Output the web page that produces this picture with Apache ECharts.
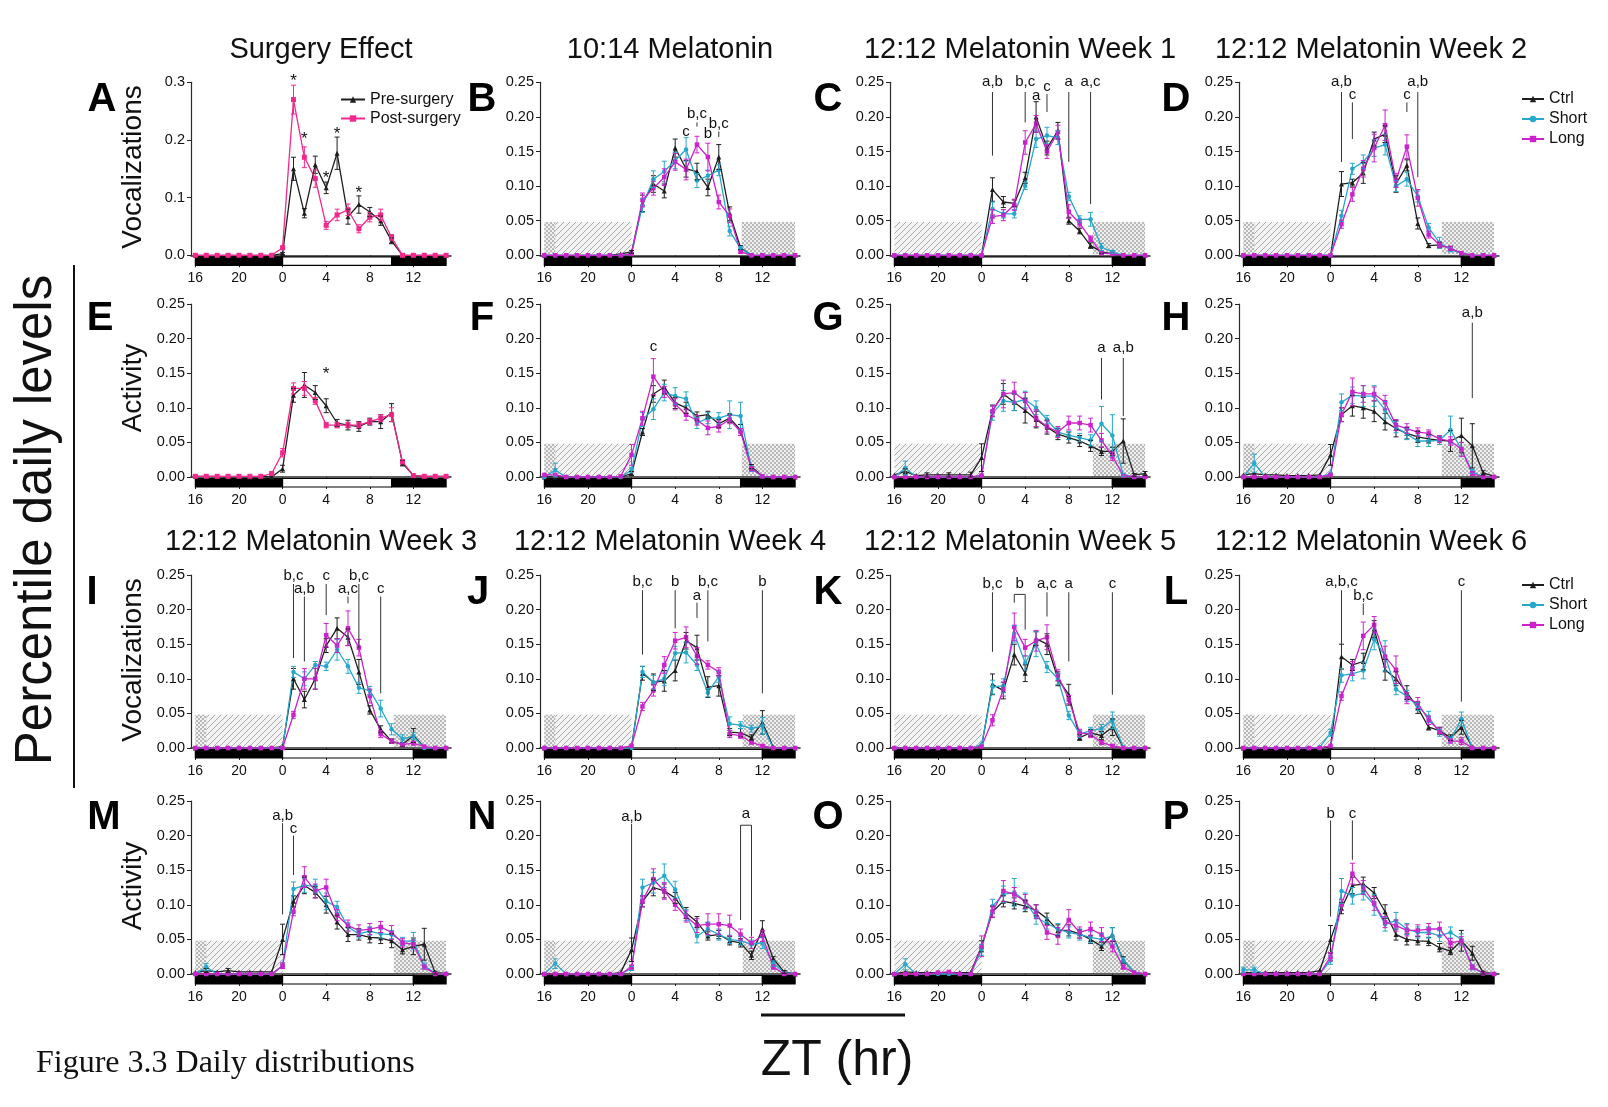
<!DOCTYPE html>
<html>
<head>
<meta charset="utf-8">
<title>Daily distributions</title>
<script src="https://cdn.jsdelivr.net/npm/echarts@6/dist/echarts.min.js"></script>
<style>
  html, body { margin: 0; padding: 0; background: #ffffff; }
  #chart { width: 1608px; height: 1107px; }
</style>
</head>
<body>
<div id="chart"></div>
<script>
// ZT hours, from ZT16 of the previous day (-8) to ZT15
const hours = [-8,-7,-6,-5,-4,-3,-2,-1,0,1,2,3,4,5,6,7,8,9,10,11,12,13,14,15];
const xTickHours = [-8,-4,0,4,8,12];

// ---- Surgery effect (A: vocalizations, E: activity) ----
const surgVocPre      = [0,0,0,0,0,0,0,0, 0.003,0.150,0.073,0.157,0.117,0.177,0.067,0.088,0.075,0.060,0.025,0,0,0,0,0];
const surgVocPreErr   = [0,0,0,0,0,0,0,0, 0.002,0.020,0.008,0.015,0.010,0.028,0.013,0.015,0.008,0.008,0.005,0,0,0,0,0];
const surgVocPost     = [0,0,0,0,0,0,0,0, 0.013,0.270,0.170,0.133,0.052,0.070,0.079,0.046,0.066,0.070,0.031,0,0,0,0,0];
const surgVocPostErr  = [0,0,0,0,0,0,0,0, 0.003,0.025,0.018,0.015,0.007,0.010,0.010,0.007,0.008,0.010,0.005,0,0,0,0,0];
const surgActPre      = [0.001,0.001,0.001,0,0.001,0,0.001,0, 0.012,0.118,0.133,0.122,0.103,0.078,0.075,0.073,0.080,0.080,0.093,0.020,0.002,0.001,0.001,0.001];
const surgActPreErr   = [0,0,0,0,0,0,0,0, 0.005,0.010,0.018,0.010,0.010,0.005,0.007,0.007,0.005,0.010,0.013,0.004,0,0,0,0];
const surgActPost     = [0.001,0.001,0.001,0.001,0.001,0.001,0.001,0.005, 0.035,0.128,0.128,0.110,0.075,0.075,0.075,0.075,0.080,0.085,0.090,0.022,0.002,0.001,0.001,0.001];
const surgActPostErr  = [0,0,0,0,0,0,0,0.002, 0.006,0.008,0.010,0.005,0.004,0.004,0.004,0.004,0.004,0.005,0.010,0.003,0,0,0,0];

// ---- B: 10:14 melatonin, vocalizations ----
const bCtrl     = [0,0,0,0,0,0,0,0.002, 0.005,0.075,0.103,0.093,0.155,0.125,0.121,0.098,0.142,0.060,0.011,0,0,0,0,0];
const bCtrlErr  = [0,0,0,0,0,0,0,0, 0.002,0.012,0.012,0.010,0.013,0.012,0.012,0.012,0.018,0.010,0.003,0,0,0,0,0];
const bShort    = [0,0,0,0,0,0,0,0, 0.002,0.072,0.110,0.121,0.137,0.153,0.108,0.115,0.123,0.035,0.010,0,0,0,0,0];
const bShortErr = [0,0,0,0,0,0,0,0, 0,0.010,0.012,0.015,0.012,0.017,0.010,0.008,0.008,0.007,0.003,0,0,0,0,0];
const bLong     = [0,0,0,0,0,0,0,0, 0.002,0.080,0.097,0.113,0.135,0.124,0.160,0.142,0.077,0.057,0.005,0,0,0,0,0];
const bLongErr  = [0,0,0,0,0,0,0,0, 0,0.010,0.010,0.012,0.012,0.015,0.012,0.020,0.010,0.010,0.002,0,0,0,0,0];

// ---- C: 12:12 week 1, vocalizations ----
const cCtrl     = [0,0,0,0,0,0,0,0, 0,0.095,0.077,0.075,0.112,0.200,0.155,0.180,0.050,0.035,0.014,0.005,0.002,0,0,0];
const cCtrlErr  = [0,0,0,0,0,0,0,0, 0,0.017,0.008,0.005,0.008,0.022,0.010,0.012,0.005,0.004,0.004,0.002,0,0,0,0];
const cShort    = [0,0,0,0,0,0,0,0, 0,0.067,0.060,0.060,0.100,0.168,0.173,0.170,0.085,0.052,0.052,0.012,0.005,0,0,0];
const cShortErr = [0,0,0,0,0,0,0,0, 0,0.010,0.006,0.006,0.005,0.012,0.012,0.010,0.006,0.005,0.010,0.005,0.002,0,0,0];
const cLong     = [0,0,0,0,0,0,0,0, 0,0.056,0.058,0.073,0.163,0.190,0.150,0.178,0.063,0.046,0.024,0.003,0.002,0,0,0];
const cLongErr  = [0,0,0,0,0,0,0,0, 0,0.010,0.008,0.008,0.017,0.012,0.010,0.010,0.010,0.005,0.004,0.002,0,0,0,0];

// ---- D: 12:12 week 2, vocalizations ----
const dCtrl     = [0,0,0,0,0,0,0,0, 0,0.103,0.105,0.119,0.168,0.175,0.103,0.130,0.046,0.014,0.015,0.010,0.003,0,0,0];
const dCtrlErr  = [0,0,0,0,0,0,0,0, 0,0.018,0.005,0.015,0.010,0.012,0.012,0.008,0.008,0.003,0.004,0.003,0,0,0,0];
const dShort    = [0,0,0,0,0,0,0,0, 0,0.057,0.125,0.135,0.155,0.160,0.100,0.110,0.085,0.040,0.018,0.008,0.003,0,0,0];
const dShortErr = [0,0,0,0,0,0,0,0, 0,0.008,0.008,0.010,0.012,0.015,0.008,0.010,0.008,0.006,0.008,0.003,0,0,0,0];
const dLong     = [0,0,0,0,0,0,0,0, 0,0.045,0.088,0.125,0.155,0.188,0.108,0.157,0.083,0.030,0.015,0.010,0.003,0,0,0];
const dLongErr  = [0,0,0,0,0,0,0,0, 0,0.006,0.010,0.012,0.020,0.022,0.010,0.017,0.012,0.005,0.004,0.003,0,0,0,0];

// ---- F: 10:14 melatonin, activity ----
const fCtrl     = [0,0,0,0,0,0,0,0, 0.005,0.065,0.120,0.130,0.107,0.100,0.088,0.090,0.077,0.085,0.068,0.015,0.001,0,0,0];
const fCtrlErr  = [0,0,0,0,0,0,0,0, 0.003,0.005,0.012,0.010,0.008,0.008,0.006,0.005,0.006,0.006,0.008,0.003,0,0,0,0];
const fShort    = [0,0.010,0,0,0,0,0,0, 0.010,0.083,0.098,0.122,0.117,0.113,0.078,0.085,0.085,0.090,0.088,0.012,0.001,0,0,0];
const fShortErr = [0,0.010,0,0,0,0,0,0, 0.004,0.010,0.015,0.012,0.012,0.010,0.008,0.008,0.008,0.020,0.020,0.004,0,0,0,0];
const fLong     = [0.003,0.003,0,0,0,0,0,0.001, 0.032,0.085,0.145,0.123,0.105,0.090,0.082,0.071,0.073,0.083,0.065,0.012,0.001,0,0,0];
const fLongErr  = [0,0,0,0,0,0,0,0, 0.015,0.010,0.026,0.008,0.008,0.008,0.007,0.010,0.008,0.006,0.005,0.003,0,0,0,0];

// ---- G: 12:12 week 1, activity ----
const gCtrl     = [0.003,0.008,0.002,0.003,0.003,0.003,0.003,0.003, 0.028,0.096,0.120,0.108,0.096,0.083,0.072,0.062,0.057,0.052,0.045,0.037,0.037,0.052,0.003,0.005];
const gCtrlErr  = [0,0.004,0,0.003,0,0.003,0,0.004, 0.020,0.008,0.015,0.012,0.018,0.012,0.010,0.008,0.008,0.008,0.008,0.006,0.006,0.032,0.002,0.003];
const gShort    = [0,0.013,0,0,0,0,0,0, 0.002,0.092,0.110,0.108,0.112,0.100,0.083,0.065,0.060,0.057,0.053,0.077,0.060,0.003,0,0];
const gShortErr = [0,0.010,0,0,0,0,0,0, 0,0.010,0.015,0.012,0.012,0.010,0.006,0.006,0.006,0.006,0.008,0.025,0.030,0.002,0,0];
const gLong     = [0,0,0,0,0,0,0,0, 0.002,0.095,0.120,0.122,0.110,0.085,0.073,0.065,0.078,0.078,0.075,0.053,0.030,0.002,0,0];
const gLongErr  = [0,0,0,0,0,0,0,0, 0,0.008,0.020,0.015,0.012,0.012,0.008,0.008,0.010,0.010,0.010,0.010,0.006,0,0,0];

// ---- H: 12:12 week 2, activity ----
const hCtrl     = [0.003,0.005,0.003,0.003,0.002,0.002,0.002,0.003, 0.032,0.090,0.103,0.100,0.095,0.080,0.070,0.063,0.058,0.055,0.053,0.052,0.060,0.045,0.006,0.001];
const hCtrlErr  = [0,0,0,0,0,0,0,0, 0.015,0.010,0.015,0.015,0.015,0.012,0.012,0.008,0.008,0.006,0.006,0.015,0.025,0.032,0.003,0];
const hShort    = [0,0.020,0,0,0,0,0,0, 0.005,0.108,0.118,0.117,0.117,0.097,0.072,0.062,0.052,0.052,0.053,0.068,0.040,0.008,0,0];
const hShortErr = [0,0.013,0,0,0,0,0,0, 0,0.012,0.012,0.015,0.015,0.012,0.008,0.008,0.008,0.008,0.006,0.020,0.010,0.003,0,0];
const hLong     = [0,0,0,0,0,0,0,0, 0.003,0.090,0.123,0.120,0.120,0.108,0.075,0.070,0.065,0.063,0.055,0.052,0.040,0.005,0,0];
const hLongErr  = [0,0,0,0,0,0,0,0, 0,0.010,0.020,0.012,0.010,0.010,0.008,0.007,0.006,0.005,0.005,0.006,0.010,0.003,0,0];

// ---- I: 12:12 week 3, vocalizations ----
const iCtrl     = [0,0,0,0,0,0,0,0, 0.002,0.100,0.070,0.100,0.148,0.173,0.160,0.110,0.055,0.027,0.010,0.005,0.018,0.001,0,0];
const iCtrlErr  = [0,0,0,0,0,0,0,0, 0,0.015,0.012,0.015,0.010,0.015,0.012,0.018,0.006,0.005,0.003,0.003,0.010,0,0,0];
const iShort    = [0,0,0,0,0,0,0,0, 0,0.110,0.100,0.120,0.118,0.142,0.118,0.087,0.083,0.057,0.027,0.013,0.017,0,0,0];
const iShortErr = [0,0,0,0,0,0,0,0, 0,0.008,0.010,0.005,0.006,0.015,0.010,0.008,0.006,0.012,0.008,0.006,0.005,0,0,0];
const iLong     = [0,0,0,0,0,0,0,0, 0,0.048,0.100,0.100,0.163,0.148,0.173,0.145,0.075,0.020,0.010,0.005,0.007,0.002,0,0];
const iLongErr  = [0,0,0,0,0,0,0,0, 0,0.005,0.015,0.015,0.017,0.010,0.025,0.012,0.010,0.005,0.003,0.002,0.003,0,0,0];

// ---- J: 12:12 week 4, vocalizations ----
const jCtrl     = [0,0,0,0,0,0,0,0, 0.002,0.108,0.095,0.097,0.112,0.155,0.145,0.088,0.090,0.023,0.022,0.015,0.037,0.001,0,0];
const jCtrlErr  = [0,0,0,0,0,0,0,0, 0,0.010,0.012,0.015,0.015,0.012,0.018,0.015,0.015,0.005,0.006,0.004,0.017,0,0,0];
const jShort    = [0,0,0,0,0,0,0,0, 0,0.110,0.095,0.100,0.137,0.138,0.120,0.080,0.103,0.035,0.033,0.028,0.032,0,0,0];
const jShortErr = [0,0,0,0,0,0,0,0, 0,0.008,0.010,0.010,0.010,0.015,0.008,0.006,0.008,0.010,0.005,0.005,0.012,0,0,0];
const jLong     = [0,0,0,0,0,0,0,0, 0.003,0.060,0.083,0.120,0.155,0.160,0.133,0.120,0.110,0.020,0.018,0.008,0.003,0,0,0];
const jLongErr  = [0,0,0,0,0,0,0,0, 0,0.006,0.008,0.012,0.012,0.015,0.012,0.006,0.006,0.005,0.004,0.002,0.002,0,0,0];

// ---- K: 12:12 week 5, vocalizations ----
const kCtrl     = [0,0,0,0,0,0,0,0, 0.002,0.092,0.083,0.135,0.108,0.158,0.150,0.100,0.077,0.015,0.022,0.018,0.030,0.001,0,0];
const kCtrlErr  = [0,0,0,0,0,0,0,0, 0,0.015,0.012,0.015,0.012,0.010,0.015,0.010,0.015,0.004,0.005,0.006,0.012,0,0,0];
const kShort    = [0,0,0,0,0,0,0,0, 0.005,0.088,0.090,0.165,0.123,0.150,0.117,0.100,0.047,0.020,0.025,0.028,0.040,0.001,0,0];
const kShortErr = [0,0,0,0,0,0,0,0, 0,0.010,0.010,0.012,0.010,0.018,0.008,0.008,0.006,0.005,0.005,0.006,0.012,0,0,0];
const kLong     = [0,0,0,0,0,0,0,0, 0.002,0.040,0.085,0.175,0.145,0.155,0.160,0.105,0.070,0.022,0.020,0.008,0.003,0,0,0];
const kLongErr  = [0,0,0,0,0,0,0,0, 0,0.008,0.010,0.020,0.012,0.015,0.018,0.008,0.006,0.005,0.005,0.003,0.002,0,0,0];

// ---- L: 12:12 week 6, vocalizations ----
const lCtrl     = [0,0,0,0,0,0,0,0, 0.002,0.132,0.120,0.125,0.172,0.113,0.100,0.080,0.058,0.030,0.025,0.015,0.030,0.001,0,0];
const lCtrlErr  = [0,0,0,0,0,0,0,0, 0,0.018,0.008,0.012,0.012,0.015,0.010,0.010,0.008,0.004,0.005,0.004,0.010,0,0,0];
const lShort    = [0,0,0,0,0,0,0,0.001, 0.022,0.105,0.107,0.112,0.157,0.133,0.085,0.075,0.060,0.045,0.022,0.012,0.042,0,0,0];
const lShortErr = [0,0,0,0,0,0,0,0, 0.005,0.010,0.010,0.012,0.015,0.022,0.008,0.008,0.006,0.008,0.005,0.004,0.010,0,0,0];
const lLong     = [0,0,0,0,0,0,0,0, 0.003,0.075,0.115,0.162,0.178,0.132,0.113,0.072,0.065,0.040,0.025,0.010,0.010,0,0,0];
const lLongErr  = [0,0,0,0,0,0,0,0, 0,0.006,0.010,0.020,0.012,0.015,0.020,0.008,0.008,0.006,0.004,0.003,0.005,0,0,0];

// ---- M: 12:12 week 3, activity ----
const mCtrl     = [0.002,0.005,0.003,0.005,0.003,0.003,0.003,0.003, 0.050,0.105,0.128,0.118,0.100,0.075,0.057,0.057,0.053,0.052,0.048,0.035,0.040,0.043,0.002,0.001];
const mCtrlErr  = [0,0.003,0,0.003,0,0,0,0, 0.022,0.008,0.012,0.008,0.012,0.010,0.010,0.008,0.008,0.008,0.010,0.006,0.012,0.023,0.002,0];
const mShort    = [0,0.010,0,0,0,0,0,0, 0.012,0.123,0.128,0.127,0.105,0.097,0.068,0.058,0.062,0.058,0.057,0.047,0.048,0.012,0.001,0];
const mShortErr = [0,0.005,0,0,0,0,0,0, 0.004,0.010,0.010,0.010,0.012,0.008,0.006,0.006,0.006,0.006,0.006,0.006,0.012,0.004,0,0];
const mLong     = [0,0,0,0,0,0,0,0, 0.012,0.090,0.140,0.120,0.125,0.085,0.070,0.063,0.065,0.068,0.060,0.045,0.043,0.010,0,0];
const mLongErr  = [0,0,0,0,0,0,0,0, 0.004,0.006,0.015,0.010,0.012,0.008,0.008,0.008,0.008,0.008,0.010,0.006,0.006,0.003,0,0];

// ---- N: 12:12 week 4, activity ----
const nCtrl     = [0,0,0,0,0,0,0,0.002, 0.035,0.105,0.125,0.120,0.110,0.088,0.075,0.055,0.057,0.048,0.045,0.027,0.065,0.022,0.003,0];
const nCtrlErr  = [0,0,0,0,0,0,0,0, 0.017,0.008,0.012,0.010,0.008,0.008,0.008,0.006,0.006,0.006,0.006,0.006,0.012,0.003,0.002,0];
const nShort    = [0,0.015,0,0,0,0,0,0, 0.008,0.125,0.132,0.142,0.122,0.085,0.055,0.065,0.057,0.050,0.048,0.043,0.045,0.015,0.002,0];
const nShortErr = [0,0.007,0,0,0,0,0,0, 0.003,0.012,0.015,0.017,0.012,0.008,0.010,0.010,0.008,0.006,0.006,0.006,0.008,0.004,0,0];
const nLong     = [0,0,0,0,0,0,0,0, 0.010,0.105,0.137,0.120,0.100,0.083,0.070,0.072,0.072,0.070,0.057,0.045,0.055,0.010,0,0];
const nLongErr  = [0,0,0,0,0,0,0,0, 0.003,0.008,0.015,0.012,0.008,0.008,0.010,0.015,0.015,0.015,0.008,0.008,0.008,0.003,0,0];

// ---- O: 12:12 week 5, activity ----
const oCtrl     = [0,0.003,0.002,0.002,0.002,0.002,0.002,0.002, 0.040,0.090,0.105,0.102,0.098,0.092,0.080,0.063,0.063,0.058,0.050,0.040,0.057,0.020,0.002,0];
const oCtrlErr  = [0,0,0,0,0,0,0,0, 0.008,0.008,0.008,0.008,0.008,0.008,0.008,0.008,0.008,0.006,0.006,0.006,0.010,0.005,0,0];
const oShort    = [0,0.014,0,0,0,0,0,0, 0.035,0.098,0.115,0.118,0.105,0.082,0.073,0.065,0.060,0.057,0.053,0.050,0.055,0.020,0.002,0];
const oShortErr = [0,0.008,0,0,0,0,0,0, 0.008,0.010,0.012,0.020,0.012,0.010,0.008,0.008,0.008,0.008,0.008,0.008,0.012,0.004,0,0];
const oLong     = [0,0,0,0,0.002,0.003,0,0, 0.040,0.090,0.120,0.115,0.105,0.090,0.060,0.055,0.078,0.060,0.065,0.057,0.040,0.010,0.002,0];
const oLongErr  = [0,0,0,0,0,0,0,0, 0.015,0.008,0.015,0.010,0.010,0.010,0.010,0.012,0.015,0.008,0.010,0.010,0.008,0.003,0,0];

// ---- P: 12:12 week 6, activity ----
const pCtrl     = [0.002,0.002,0.002,0.002,0.002,0.002,0.002,0.005, 0.050,0.095,0.128,0.130,0.117,0.090,0.057,0.050,0.048,0.047,0.038,0.033,0.048,0.030,0.002,0.001];
const pCtrlErr  = [0,0,0,0,0,0,0,0, 0.020,0.008,0.012,0.010,0.008,0.010,0.008,0.008,0.006,0.006,0.006,0.005,0.015,0.010,0.002,0];
const pShort    = [0.006,0.006,0,0,0,0,0,0, 0.020,0.120,0.113,0.117,0.100,0.072,0.077,0.065,0.060,0.060,0.055,0.060,0.050,0.010,0.001,0];
const pShortErr = [0.004,0.004,0,0,0,0,0,0, 0.006,0.018,0.012,0.010,0.015,0.010,0.012,0.008,0.008,0.008,0.008,0.008,0.008,0.004,0,0];
const pLong     = [0,0,0,0,0,0,0,0, 0.025,0.100,0.145,0.125,0.102,0.075,0.070,0.063,0.063,0.065,0.065,0.045,0.048,0.010,0.001,0];
const pLongErr  = [0,0,0,0,0,0,0,0, 0.006,0.008,0.015,0.010,0.010,0.008,0.008,0.008,0.008,0.008,0.010,0.006,0.006,0.003,0,0];

// Significance notes: [hour, label level, text, line top, line bottom] or
// brackets: [hour1, label level, text, bracket top, bottom at hour1, hour2, bottom at hour2]
const notesA = [[1,0.31,'*'],[2,0.209,'*'],[4,0.143,'*'],[5,0.219,'*'],[7,0.116,'*']];
const notesB = [[5,0.178,'c'],[6,0.204,'b,c',0.192,0.186],[7,0.175,'b'],[8,0.19,'b,c',0.179,0.171]];
const notesC = [[1,0.25,'a,b',0.236,0.144],[4,0.25,'b,c',0.236,0.192],[5,0.231,'a'],[6,0.244,'c',0.233,0.207],[8,0.25,'a',0.236,0.135],[10,0.25,'a,c',0.236,0.074]];
const notesD = [[1,0.25,'a,b',0.236,0.135],[2,0.232,'c',0.221,0.168],[7,0.232,'c',0.221,0.207],[8,0.25,'a,b',0.236,0.113]];
const notesE = [[4,0.155,'*']];
const notesF = [[2,0.188,'c']];
const notesG = [[11,0.187,'a',0.172,0.112],[13,0.187,'a,b',0.172,0.088]];
const notesH = [[13,0.237,'a,b',0.223,0.114]];
const notesI = [[1,0.249,'b,c',0.237,0.13],[2,0.23,'a,b',0.219,0.125],[4,0.249,'c',0.237,0.192],[6,0.23,'a,c',0.219,0.209],[7,0.249,'b,c',0.237,0.144],[9,0.23,'c',0.219,0.079]];
const notesJ = [[1,0.24,'b,c',0.228,0.135],[4,0.24,'b',0.228,0.173],[6,0.22,'a',0.21,0.188],[7,0.24,'b,c',0.228,0.154],[12,0.24,'b',0.228,0.079]];
const notesK = [[1,0.2365,'b,c',0.225,0.139],[3,0.2365,'b',0.222,0.21,4,0.171],[6,0.2365,'a,c',0.225,0.19],[8,0.2365,'a',0.225,0.125],[12,0.2365,'c',0.225,0.077]];
const notesL = [[1,0.24,'a,b,c',0.228,0.135],[3,0.22,'b,c',0.209,0.192],[12,0.24,'c',0.228,0.067]];
const notesM = [[0,0.229,'a,b',0.218,0.086],[1,0.21,'c',0.2,0.143]];
const notesN = [[0,0.227,'a,b',0.217,0.052],[10,0.231,'a',0.215,0.078,11,0.054]];
const notesO = [];
const notesP = [[0,0.232,'b',0.222,0.083],[2,0.232,'c',0.222,0.165]];

// Light schedule bars under the axis: [start, end, lit]
const lightBar1014 = [[-8,0,0],[0,10,1],[10,15,0]];
const lightBar1212 = [[-8,0,0],[0,12,1],[12,15,0]];
// Shaded reference windows (hours) and their height
const hatchNight = [-8, 0];
const crossFirstHour = [-8, -7];
const crossTail1014 = [10.1, 15];
const crossTail1212 = [10.2, 15];
const SHADE_LEVEL = 0.048;

const panelLetters = ['A','B','C','D','E','F','G','H','I','J','K','L','M','N','O','P'];
const panelTitles = ['Surgery Effect','10:14 Melatonin','12:12 Melatonin Week 1','12:12 Melatonin Week 2',
                     '12:12 Melatonin Week 3','12:12 Melatonin Week 4','12:12 Melatonin Week 5','12:12 Melatonin Week 6'];

// ---- styling ----
const SANS = "'Liberation Sans', Arial, Helvetica, sans-serif";
const SERIF = "'Liberation Serif', 'Times New Roman', serif";
const COLORS = { pre: '#1e1e1e', post: '#f2288c', ctrl: '#1e1e1e', short: '#26a8cc', long: '#cc22cc' };
const SYMBOLS = { pre: 'triangle', post: 'rect', ctrl: 'triangle', short: 'circle', long: 'rect' };
const SYMBOL_SIZE = { pre: 5, post: 5, ctrl: 5, short: 4.5, long: 4.5 };

// ---- layout ----
const COL_LEFT = [191, 540, 890, 1239];
const ROW_TOP = [82.3, 304, 575, 801];
const PLOT_W = 260, PLOT_H = 173;
const X_MIN = -8.4, X_MAX = 15.45;

function trio(c, ce, s, se, l, le) {
  return [['Ctrl','ctrl',c,ce],['Short','short',s,se],['Long','long',l,le]];
}
const leadTail1014 = { lead: true, tail: crossTail1014 };
const leadTail1212 = { lead: true, tail: crossTail1212 };
const tail1212 = { lead: false, tail: crossTail1212 };

const panels = [
  { row:0, col:0, yMax:0.3, yStep:0.1, digits:1, lights:lightBar1014, shade:null,
    groups:[['Pre-surgery','pre',surgVocPre,surgVocPreErr],['Post-surgery','post',surgVocPost,surgVocPostErr]], notes:notesA },
  { row:0, col:1, lights:lightBar1014, shade:leadTail1014, groups:trio(bCtrl,bCtrlErr,bShort,bShortErr,bLong,bLongErr), notes:notesB },
  { row:0, col:2, lights:lightBar1212, shade:tail1212, groups:trio(cCtrl,cCtrlErr,cShort,cShortErr,cLong,cLongErr), notes:notesC },
  { row:0, col:3, lights:lightBar1212, shade:leadTail1212, groups:trio(dCtrl,dCtrlErr,dShort,dShortErr,dLong,dLongErr), notes:notesD },
  { row:1, col:0, lights:lightBar1014, shade:null,
    groups:[['Pre-surgery','pre',surgActPre,surgActPreErr],['Post-surgery','post',surgActPost,surgActPostErr]], notes:notesE },
  { row:1, col:1, lights:lightBar1014, shade:leadTail1014, groups:trio(fCtrl,fCtrlErr,fShort,fShortErr,fLong,fLongErr), notes:notesF },
  { row:1, col:2, lights:lightBar1212, shade:tail1212, groups:trio(gCtrl,gCtrlErr,gShort,gShortErr,gLong,gLongErr), notes:notesG },
  { row:1, col:3, lights:lightBar1212, shade:leadTail1212, groups:trio(hCtrl,hCtrlErr,hShort,hShortErr,hLong,hLongErr), notes:notesH },
  { row:2, col:0, lights:lightBar1212, shade:leadTail1212, groups:trio(iCtrl,iCtrlErr,iShort,iShortErr,iLong,iLongErr), notes:notesI },
  { row:2, col:1, lights:lightBar1212, shade:leadTail1212, groups:trio(jCtrl,jCtrlErr,jShort,jShortErr,jLong,jLongErr), notes:notesJ },
  { row:2, col:2, lights:lightBar1212, shade:tail1212, groups:trio(kCtrl,kCtrlErr,kShort,kShortErr,kLong,kLongErr), notes:notesK },
  { row:2, col:3, lights:lightBar1212, shade:leadTail1212, groups:trio(lCtrl,lCtrlErr,lShort,lShortErr,lLong,lLongErr), notes:notesL },
  { row:3, col:0, lights:lightBar1212, shade:leadTail1212, groups:trio(mCtrl,mCtrlErr,mShort,mShortErr,mLong,mLongErr), notes:notesM },
  { row:3, col:1, lights:lightBar1212, shade:leadTail1212, groups:trio(nCtrl,nCtrlErr,nShort,nShortErr,nLong,nLongErr), notes:notesN },
  { row:3, col:2, lights:lightBar1212, shade:tail1212, groups:trio(oCtrl,oCtrlErr,oShort,oShortErr,oLong,oLongErr), notes:notesO },
  { row:3, col:3, lights:lightBar1212, shade:leadTail1212, groups:trio(pCtrl,pCtrlErr,pShort,pShortErr,pLong,pLongErr), notes:notesP }
];

// ---- fill patterns for the shaded windows ----
function makeHatch() {
  const c = document.createElement('canvas');
  c.width = 6; c.height = 6;
  const g = c.getContext('2d');
  g.fillStyle = '#f4f4f4'; g.fillRect(0, 0, 6, 6);
  g.strokeStyle = '#aaaaaa'; g.lineWidth = 1;
  g.beginPath();
  g.moveTo(-1, 7); g.lineTo(7, -1);
  g.moveTo(-1, 1); g.lineTo(1, -1);
  g.moveTo(5, 7); g.lineTo(7, 5);
  g.stroke();
  return c;
}
function makeCross() {
  const c = document.createElement('canvas');
  c.width = 4; c.height = 4;
  const g = c.getContext('2d');
  g.fillStyle = '#f0f0f0'; g.fillRect(0, 0, 4, 4);
  g.fillStyle = '#b8b8b8'; g.fillRect(0, 0, 2, 2); g.fillRect(2, 2, 2, 2);
  return c;
}
const hatchFill = { type: 'pattern', image: makeHatch(), repeat: 'repeat' };
const crossFill = { type: 'pattern', image: makeCross(), repeat: 'repeat' };

// ---- series builders ----
function backdropSeries(p, k) {
  const items = [];
  if (p.shade) {
    items.push({ span: hatchNight, kind: 'hatch' });
    if (p.shade.lead) items.push({ span: crossFirstHour, kind: 'cross' });
    items.push({ span: p.shade.tail, kind: 'cross' });
  }
  p.lights.forEach(l => items.push({ span: [l[0], l[1]], kind: l[2] ? 'light' : 'dark' }));
  return {
    type: 'custom', xAxisIndex: k, yAxisIndex: k, z: 1, silent: true, clip: false,
    data: items.map(it => [it.span[0], it.span[1]]),
    renderItem: (params, api) => {
      const it = items[params.dataIndex];
      const x1 = api.value(0), x2 = api.value(1);
      if (it.kind === 'hatch' || it.kind === 'cross') {
        const a = api.coord([x1, SHADE_LEVEL]), b = api.coord([x2, 0]);
        return { type: 'rect', shape: { x: a[0], y: a[1], width: b[0] - a[0], height: b[1] - a[1] - 1 },
                 style: { fill: it.kind === 'hatch' ? hatchFill : crossFill } };
      }
      const a = api.coord([x1, 0]), b = api.coord([x2, 0]);
      return { type: 'rect', shape: { x: a[0], y: a[1] + 1.5, width: b[0] - a[0], height: 8.5 },
               style: { fill: it.kind === 'dark' ? '#000' : '#fff', stroke: '#000', lineWidth: 1.2 } };
    }
  };
}

function errorSeries(k, vals, errs, color) {
  return {
    type: 'custom', xAxisIndex: k, yAxisIndex: k, z: 4, silent: true, clip: false,
    data: hours.map((h, i) => [h, vals[i], errs[i]]),
    renderItem: (params, api) => {
      const x = api.value(0), v = api.value(1), e = api.value(2);
      if (!(e > 0)) return null;
      const top = api.coord([x, v + e]), bot = api.coord([x, Math.max(0, v - e)]);
      const cap = 2.5, st = { stroke: color, lineWidth: 1 };
      return { type: 'group', children: [
        { type: 'line', shape: { x1: top[0], y1: top[1], x2: bot[0], y2: bot[1] }, style: st },
        { type: 'line', shape: { x1: top[0] - cap, y1: top[1], x2: top[0] + cap, y2: top[1] }, style: st },
        { type: 'line', shape: { x1: bot[0] - cap, y1: bot[1], x2: bot[0] + cap, y2: bot[1] }, style: st }
      ] };
    }
  };
}

function noteSeries(notes, k) {
  return {
    type: 'custom', xAxisIndex: k, yAxisIndex: k, z: 6, silent: true, clip: false,
    data: notes.map(n => [n[0], n[1]]),
    renderItem: (params, api) => {
      const n = notes[params.dataIndex];
      const bracket = n.length > 5;
      const xc = bracket ? (n[0] + n[5]) / 2 : n[0];
      const tp = api.coord([xc, n[1]]);
      const star = n[2] === '*';
      const children = [{
        type: 'text', x: tp[0], y: tp[1] + (star ? 5 : 0),
        style: { text: n[2], fill: '#111', font: (star ? '17px ' : '15px ') + SANS,
                 textAlign: 'center', textVerticalAlign: 'middle', align: 'center', verticalAlign: 'middle' }
      }];
      const ls = { stroke: '#333', lineWidth: 1 };
      if (bracket) {
        const a2 = api.coord([n[0], n[4]]), a = api.coord([n[0], n[3]]);
        const b = api.coord([n[5], n[3]]), b2 = api.coord([n[5], n[6]]);
        children.push({ type: 'polyline', shape: { points: [a2, a, b, b2] }, style: Object.assign({ fill: null }, ls) });
      } else if (n.length >= 5) {
        const a = api.coord([n[0], n[3]]), b = api.coord([n[0], n[4]]);
        children.push({ type: 'line', shape: { x1: a[0], y1: a[1], x2: b[0], y2: b[1] }, style: ls });
      }
      return { type: 'group', children };
    }
  };
}

const grids = [], xAxes = [], yAxes = [], series = [];
panels.forEach((p, k) => {
  const yMax = p.yMax || 0.25, yStep = p.yStep || 0.05, digits = p.digits || 2;
  grids.push({ left: COL_LEFT[p.col], top: ROW_TOP[p.row], width: PLOT_W, height: PLOT_H, containLabel: false });
  xAxes.push({
    type: 'value', gridIndex: k, min: X_MIN, max: X_MAX,
    splitLine: { show: false },
    axisLine: { show: true, onZero: true, lineStyle: { color: '#2a2a2a', width: 1.5 } },
    axisTick: { show: true, customValues: xTickHours, length: 12, lineStyle: { color: '#222', width: 1 } },
    axisLabel: { show: true, customValues: xTickHours, formatter: v => String((v + 24) % 24),
                 fontSize: 14, fontFamily: SANS, color: '#111', margin: 16 }
  });
  yAxes.push({
    type: 'value', gridIndex: k, min: 0, max: yMax, interval: yStep,
    splitLine: { show: false },
    axisLine: { show: true, onZero: false, lineStyle: { color: '#2a2a2a', width: 1.2 } },
    axisTick: { show: true, length: 4, lineStyle: { color: '#222' } },
    axisLabel: { formatter: v => v.toFixed(digits), fontSize: 14.5, fontFamily: SANS, color: '#111', margin: 6 }
  });
  series.push(backdropSeries(p, k));
  p.groups.forEach(g => {
    const [name, key, vals, errs] = g;
    series.push({
      type: 'line', name, xAxisIndex: k, yAxisIndex: k, z: 3, silent: true,
      data: hours.map((h, i) => [h, vals[i]]),
      symbol: SYMBOLS[key], symbolSize: SYMBOL_SIZE[key], showAllSymbol: true,
      itemStyle: { color: COLORS[key] },
      lineStyle: { color: COLORS[key], width: 1.3 }
    });
    series.push(errorSeries(k, vals, errs, COLORS[key]));
  });
  if (p.notes.length) series.push(noteSeries(p.notes, k));
});

// ---- free-standing text ----
const graphics = [];
const titleX = [321, 670, 1020, 1371];
const titleY = [50, 542];
panelTitles.forEach((t, i) => {
  graphics.push({ type: 'text', x: titleX[i % 4], y: titleY[Math.floor(i / 4)],
    style: { text: t, font: '29px ' + SANS, fill: '#111', textAlign: 'center', textVerticalAlign: 'middle', align: 'center', verticalAlign: 'middle' } });
});
const letterX = [[102, 482, 828, 1176], [100, 482, 828, 1176], [92, 478, 828, 1176], [104, 482, 828, 1176]];
const letterY = [100, 319, 593, 818];
panelLetters.forEach((t, i) => {
  const r = Math.floor(i / 4), c = i % 4;
  graphics.push({ type: 'text', x: letterX[r][c], y: letterY[r],
    style: { text: t, font: 'bold 40px ' + SANS, fill: '#000', textAlign: 'center', textVerticalAlign: 'middle', align: 'center', verticalAlign: 'middle' } });
});
const axisNames = [['Vocalizations', 167], ['Activity', 388], ['Vocalizations', 660], ['Activity', 886]];
axisNames.forEach(a => {
  graphics.push({ type: 'text', x: 133, y: a[1], rotation: Math.PI / 2,
    style: { text: a[0], font: '28px ' + SANS, fill: '#111', textAlign: 'center', textVerticalAlign: 'middle', align: 'center', verticalAlign: 'middle' } });
});
graphics.push({ type: 'text', x: 37, y: 520, rotation: Math.PI / 2,
  style: { text: 'Percentile daily levels', font: '51px ' + SANS, fill: '#111', textAlign: 'center', textVerticalAlign: 'middle', align: 'center', verticalAlign: 'middle' } });
graphics.push({ type: 'line', shape: { x1: 74, y1: 265, x2: 74, y2: 788 }, style: { stroke: '#111', lineWidth: 2 } });
graphics.push({ type: 'line', shape: { x1: 761, y1: 1015, x2: 905, y2: 1015 }, style: { stroke: '#111', lineWidth: 3 } });
graphics.push({ type: 'text', x: 837, y: 1061,
  style: { text: 'ZT (hr)', font: '50px ' + SANS, fill: '#111', textAlign: 'center', textVerticalAlign: 'middle', align: 'center', verticalAlign: 'middle' } });
graphics.push({ type: 'text', x: 36, y: 1064,
  style: { text: 'Figure 3.3 Daily distributions', font: '32px ' + SERIF, fill: '#111', textAlign: 'left', textVerticalAlign: 'middle', align: 'left', verticalAlign: 'middle' } });

const legendBase = {
  orient: 'vertical', itemWidth: 22, itemHeight: 8, itemGap: 2, selectedMode: false,
  textStyle: { fontSize: 16, fontFamily: SANS, color: '#111', lineHeight: 18 }
};

const chart = echarts.init(document.getElementById('chart'), null, { renderer: 'canvas' });
chart.setOption({
  backgroundColor: '#ffffff',
  animation: false,
  grid: grids,
  xAxis: xAxes,
  yAxis: yAxes,
  legend: [
    Object.assign({}, legendBase, { data: ['Pre-surgery', 'Post-surgery'], left: 335, top: 86, itemWidth: 24,
      textStyle: { fontSize: 16, fontFamily: SANS, color: '#111', lineHeight: 17 } }),
    Object.assign({}, legendBase, { data: ['Ctrl', 'Short', 'Long'], left: 1516, top: 85 }),
    Object.assign({}, legendBase, { data: ['Ctrl', 'Short', 'Long'], left: 1516, top: 571 })
  ],
  graphic: { elements: graphics },
  series: series
});
</script>
</body>
</html>
